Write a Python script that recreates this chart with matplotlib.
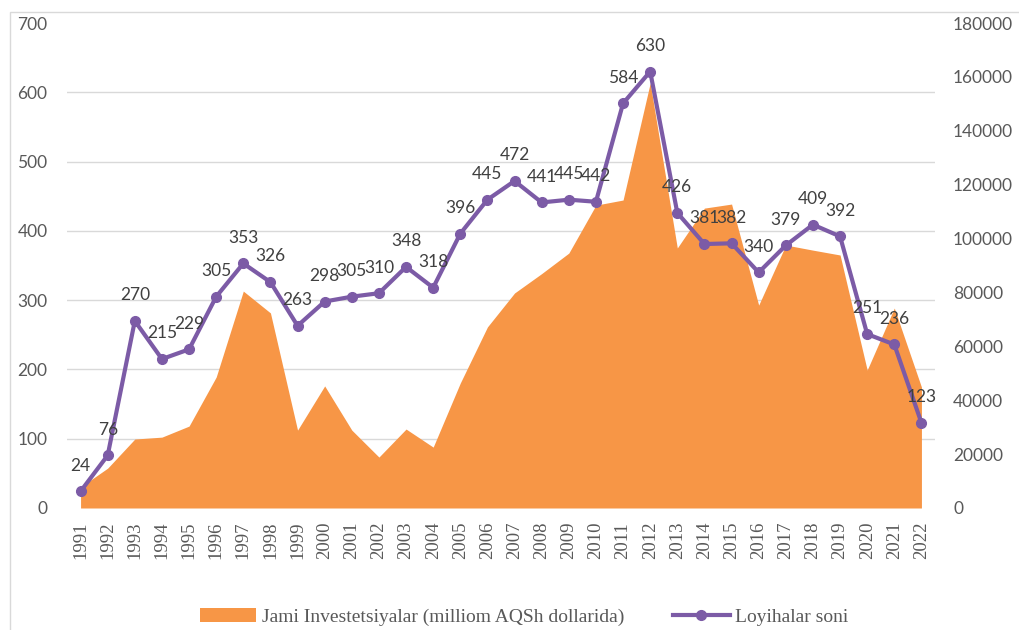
import numpy as np
import matplotlib
matplotlib.use("Agg")
import matplotlib.pyplot as plt
from matplotlib.patches import Rectangle
from matplotlib.lines import Line2D
from matplotlib.patches import Patch

years = list(range(1991, 2023))
# investments (right axis)
investments = [7800, 14800, 25600, 26300, 30400, 48600, 80500, 72400, 28900, 45300,
               28900, 18900, 29300, 22600, 46400, 67200, 79800, 87000, 94600, 112400,
               114300, 157700, 96500, 111300, 112800, 75300, 97600, 95700, 93900, 51200,
               74200, 44900]
# number of projects (left axis)
projects = [24, 76, 270, 215, 229, 305, 353, 326, 263, 298, 305, 310, 348, 318, 396,
            445, 472, 441, 445, 442, 584, 630, 426, 381, 382, 340, 379, 409, 392, 251,
            236, 123]

area_label = "Jami Investetsiyalar (milliom AQSh dollarida)"
line_label = "Loyihalar soni"

orange = "#F79646"
purple = "#7C5BA6"
gray = "#595959"
sans = "Lato"
serif = "Liberation Serif"

fig = plt.figure(figsize=(10.2, 6.3), dpi=100)
fig.patches.append(Rectangle((10 / 1020, -0.1), 1.2, 1.1 - 12 / 630,
                             transform=fig.transFigure, fill=False,
                             edgecolor="#d9d9d9", linewidth=1.0))

ax = fig.add_axes([67 / 1020, 1 - 508 / 630, (935 - 67) / 1020, (508 - 23) / 630])
x = np.arange(len(years))

# area on the secondary scale, drawn underneath
ax.fill_between(x, investments, 0, color=orange, linewidth=0, zorder=2)
ax.set_ylim(0, 180000)
ax.set_xlim(-0.5, len(years) - 0.5)
ax.set_xticks(x)
ax.set_xticklabels([str(y) for y in years], rotation=90, fontfamily=serif,
                   fontsize=13.5, color=gray)
ax.tick_params(axis="x", length=0, pad=10)
for s in ax.spines.values():
    s.set_visible(False)

# line on the primary scale, drawn on top
ax2 = ax.twinx()
ax2.plot(x, projects, color=purple, linewidth=3, marker="o", markersize=7, zorder=3)
ax2.set_ylim(0, 700)
ax2.yaxis.tick_left()
ax2.set_yticks(np.arange(0, 701, 100))
ax2.tick_params(axis="y", length=0, pad=14, labelsize=12.5, labelcolor=gray)
for t in ax2.get_yticklabels():
    t.set_fontfamily(sans)
for s in ax2.spines.values():
    s.set_visible(False)

ax.yaxis.tick_right()
ax.set_yticks(np.arange(0, 180001, 20000))
ax.set_yticks(np.linspace(0, 180000, 8), minor=True)
ax.grid(which="minor", axis="y", color="#d9d9d9", linewidth=1.0, zorder=0)
ax.tick_params(axis="y", which="both", length=0, pad=13, labelsize=12.5,
               labelcolor=gray, labelleft=False, labelright=True)
for t in ax.get_yticklabels():
    t.set_fontfamily(sans)

for xi, v in zip(x, projects):
    ax2.annotate(str(v), (xi, v), xytext=(0, 18.5), textcoords="offset points",
                 ha="center", va="center", fontsize=12.5, fontfamily=sans,
                 color="#404040")

handles = [Patch(facecolor=orange, edgecolor="none"),
           Line2D([0], [0], color=purple, linewidth=3, marker="o", markersize=7)]
fig.legend(handles, [area_label, line_label], loc="center",
           bbox_to_anchor=(0.514, 0.021), ncol=2, frameon=False,
           prop={"family": serif, "size": 14}, labelcolor=gray,
           handlelength=2.9, handletextpad=0.3, columnspacing=2.5)

fig.savefig("out.png", dpi=100)
